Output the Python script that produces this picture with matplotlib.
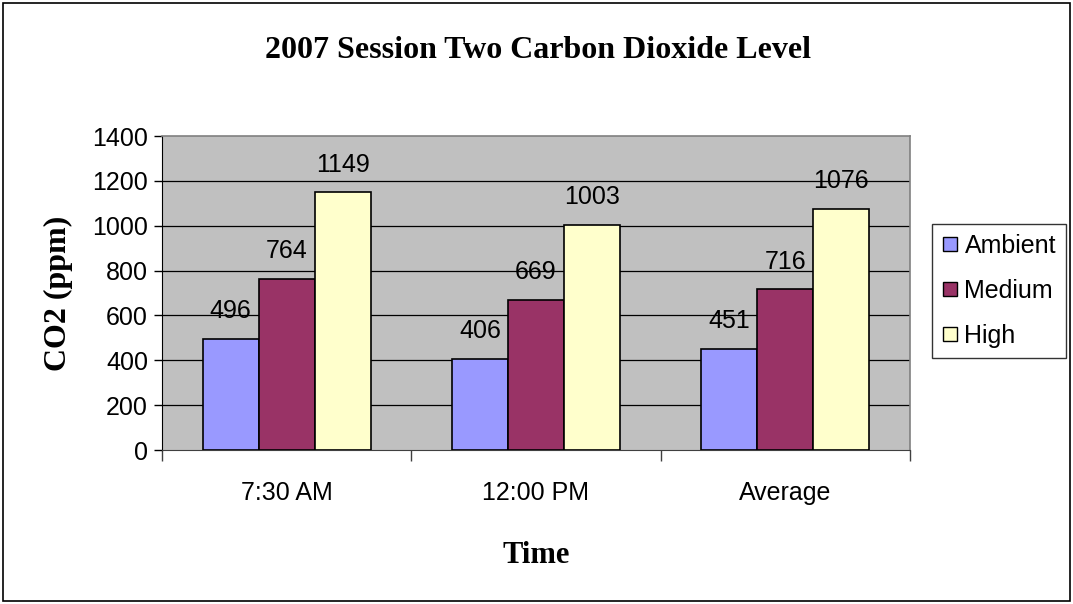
import numpy as np
import matplotlib.pyplot as plt
from matplotlib.patches import Rectangle
from matplotlib.lines import Line2D

categories = ['7:30 AM', '12:00 PM', 'Average']
series_names = ['Ambient', 'Medium', 'High']
ambient = [496, 406, 451]
medium = [764, 669, 716]
high = [1149, 1003, 1076]
yticks = [0, 200, 400, 600, 800, 1000, 1200, 1400]

colors = ['#9999FF', '#993366', '#FFFFCC']
W, H = 1073, 604

fig = plt.figure(figsize=(W / 100, H / 100), dpi=100)
fig.patch.set_facecolor('white')
# outer chart border
fig.add_artist(Rectangle((3 / W, 3 / H), (W - 6) / W, (H - 6) / H, transform=fig.transFigure,
                         fill=False, edgecolor='black', lw=1.2))

left, right, top, bottom = 162, 910, 136, 450
ax = fig.add_axes([left / W, 1 - bottom / H, (right - left) / W, (bottom - top) / H])
ax.set_facecolor('#C0C0C0')

x = np.arange(len(categories))
bw = 0.225
for k, vals in enumerate([ambient, medium, high]):
    pos = x + (k - 1) * bw
    ax.bar(pos, vals, width=bw, color=colors[k], edgecolor='black', lw=1.2, zorder=3,
           label=series_names[k])
    for p, v in zip(pos, vals):
        ax.text(p, v + 70, str(v), ha='center', va='bottom', fontsize=18,
                family='Liberation Sans', zorder=4)

ax.set_xlim(-0.5, 2.5)
ax.set_ylim(0, 1400)
ax.set_yticks(yticks)
ax.set_yticklabels([str(t) for t in yticks], fontsize=18, family='Liberation Sans')
for t in yticks[1:-1]:
    ax.axhline(t, color='black', lw=0.9, zorder=1)

ax.set_xticks([-0.5, 0.5, 1.5, 2.5], minor=False)
ax.set_xticklabels([])
ax.set_xticks(x, minor=True)
ax.set_xticklabels(categories, minor=True, fontsize=18, family='Liberation Sans')
ax.tick_params(axis='x', which='major', direction='out', length=8, width=1, color='#404040')
ax.tick_params(axis='x', which='minor', length=0, pad=22)
ax.tick_params(axis='y', direction='out', length=6, width=1, pad=4)

for s in ['top', 'right']:
    ax.spines[s].set_color('#808080')
    ax.spines[s].set_linewidth(1.2)
ax.spines['left'].set_color('black')
ax.spines['bottom'].set_color('#404040')

ax.set_ylabel('CO2 (ppm)', fontsize=23, family='Liberation Serif', fontweight='bold', labelpad=14)
ax.set_xlabel('Time', fontsize=22, family='Liberation Serif', fontweight='bold', labelpad=26)

fig.text(538 / W, 1 - 50 / H, '2007 Session Two Carbon Dioxide Level', ha='center', va='center',
         fontsize=23, family='Liberation Serif', fontweight='bold')

handles = [Line2D([], [], marker='s', ls='none', markersize=10, markerfacecolor=c,
                  markeredgecolor='black', markeredgewidth=1) for c in colors]
leg = fig.legend(handles, series_names, loc='upper left', bbox_to_anchor=(932 / W, 1 - 224 / H),
                 prop={'family': 'Liberation Sans', 'size': 18}, frameon=True, fancybox=False,
                 handlelength=0.6, handletextpad=0.3, labelspacing=0.83, borderpad=0.4,
                 borderaxespad=0)
leg.get_frame().set_edgecolor('black')
leg.get_frame().set_linewidth(1)

fig.savefig('out.png', dpi=100)
